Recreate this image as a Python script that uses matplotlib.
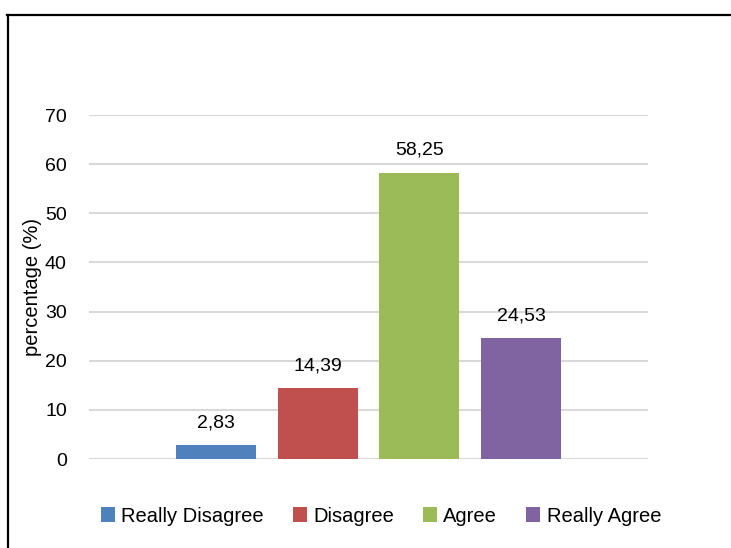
import matplotlib
matplotlib.use("Agg")
import matplotlib.pyplot as plt
from matplotlib.lines import Line2D

categories = ["Really Disagree", "Disagree", "Agree", "Really Agree"]
values = [2.83, 14.39, 58.25, 24.53]
colors = ["#4F81BD", "#C0504D", "#9BBB59", "#8064A2"]
yticks = [0, 10, 20, 30, 40, 50, 60, 70]

plt.rcParams["font.family"] = ["Liberation Sans", "DejaVu Sans"]

fig = plt.figure(figsize=(7.31, 5.48), dpi=100)
ax = fig.add_axes([89 / 731, 1 - 459 / 548, 559 / 731, 344 / 548])

x = list(range(len(categories)))
bars = ax.bar(x, values, width=0.79, color=colors, label=categories, zorder=3)

for xi, v in zip(x, values):
    ax.annotate(f"{v:.2f}".replace(".", ","), (xi, v), xytext=(0, 10),
                textcoords="offset points", ha="center", va="bottom", fontsize=14)

ax.set_xlim(-1.25, 4.25)
ax.set_ylim(0, 70)
ax.set_yticks(yticks)
ax.set_xticks([])
ax.tick_params(axis="y", length=0, pad=16, labelsize=14)
ax.grid(axis="y", color="#D9D9D9", linewidth=1.5, zorder=0)
for s in ax.spines.values():
    s.set_visible(False)

ax.set_ylabel("percentage (%)", fontsize=14.5)
ax.yaxis.set_label_coords(-0.084, 0.5)

fig.legend(handles=bars, labels=categories, loc="center", ncol=4,
           bbox_to_anchor=(381 / 731, 1 - 516 / 548), frameon=False,
           fontsize=14.5, handlelength=0.7, handleheight=0.7,
           handletextpad=0.3, columnspacing=1.45)

# chart frame (cut off on right and bottom)
fig.add_artist(Line2D([7 / 731, 1], [1 - 15 / 548, 1 - 15 / 548], color="black", linewidth=1.6))
fig.add_artist(Line2D([8 / 731, 8 / 731], [0, 1 - 15 / 548], color="black", linewidth=1.6))

fig.savefig("out.png", dpi=100)
